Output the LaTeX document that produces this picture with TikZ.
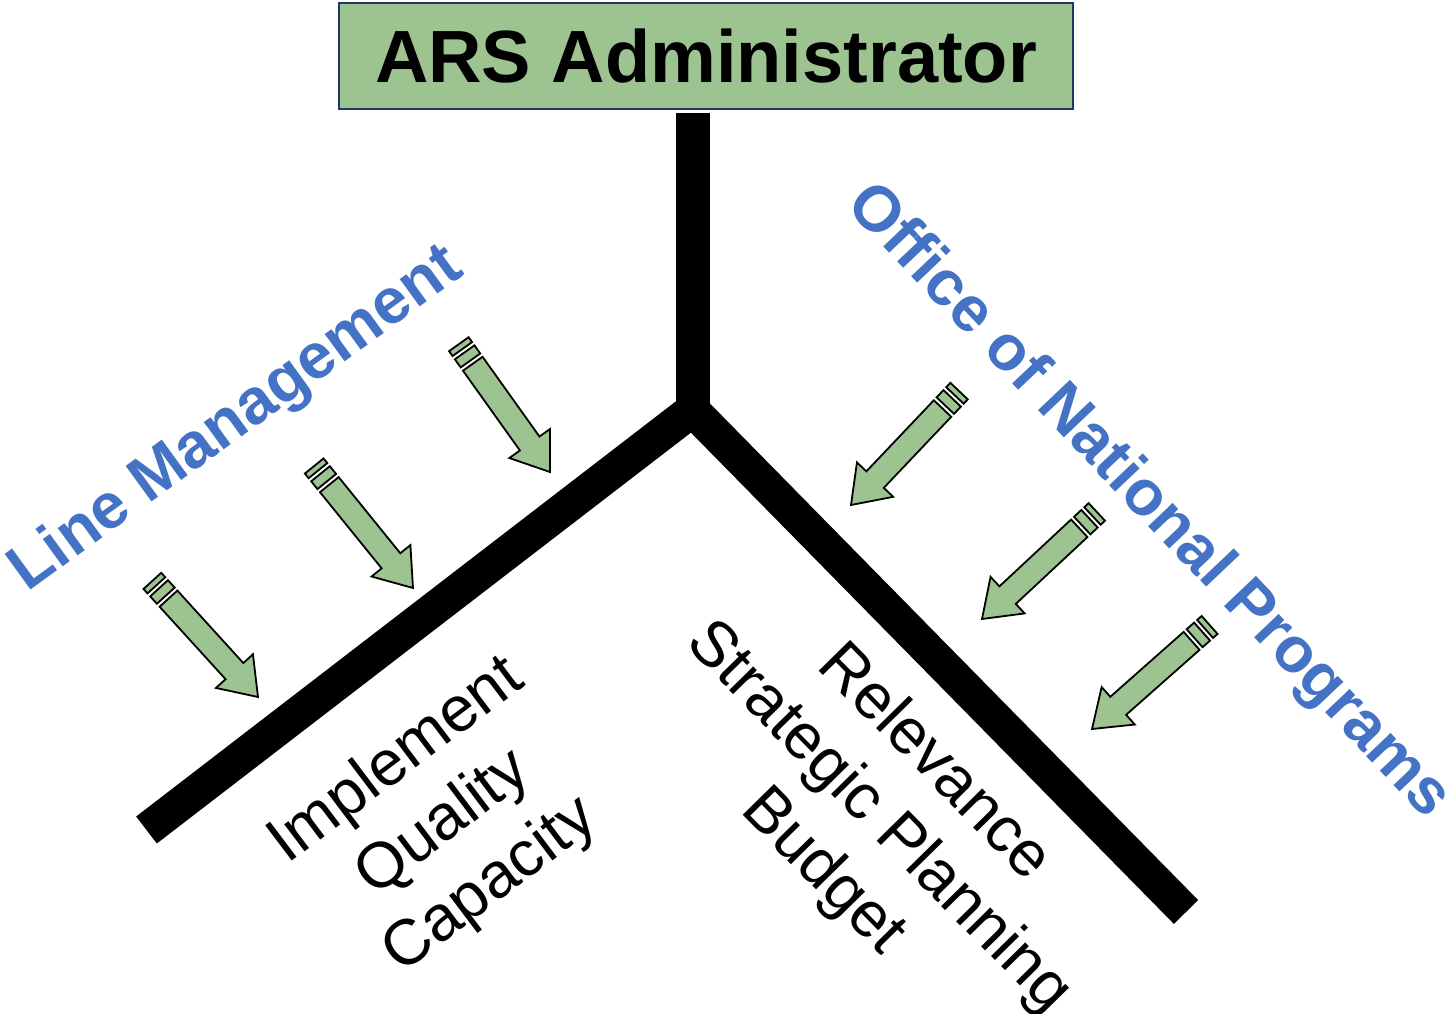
\documentclass[tikz,border=0pt]{standalone}
\usepackage{fontspec}
\setmainfont{Liberation Sans}
\usetikzlibrary{calc}

\definecolor{arsgreen}{RGB}{157,195,145}
\definecolor{arsborder}{RGB}{31,56,100}
\definecolor{onpblue}{RGB}{68,114,196}

\tikzset{
  stripedarrow/.pic={
    \draw[arrowbody] (0,0) -- (-35,25) -- (-35,12) -- (-133,12) -- (-133,-12)
      -- (-35,-12) -- (-35,-25) -- cycle;
    \draw[arrowbody] (-147,-12) rectangle (-137,12);
    \draw[arrowbody] (-157,-12) rectangle (-151,12);
  }
}

\begin{document}
\begin{tikzpicture}[x=1pt,y=-1pt,every text node part/.style={align=center}]
  \tikzstyle{arrowbody}=[draw=black,fill=arsgreen,line width=1.8pt,line join=miter]
  \tikzstyle{branch}=[line width=34pt,line join=miter]
  \tikzstyle{side}=[text=onpblue,font=\bfseries\fontsize{64}{76}\selectfont]
  \tikzstyle{duty}=[font=\fontsize{64}{78}\selectfont]

  \useasboundingbox (0,0) rectangle (1449,1014);

  \node [draw=arsborder,line width=2.2pt,fill=arsgreen,inner sep=0pt,
    minimum width=734pt,minimum height=106pt,
    font=\bfseries\fontsize{74}{80}\selectfont] (admin) at (706,56) {ARS Administrator};

  \coordinate (stemtop) at (692.5,113);
  \coordinate (hub) at (692.5,410);
  \coordinate (lmend) at (146.5,830);
  \coordinate (onpend) at (1186,912);

  \draw [branch] (stemtop) -- (hub);
  \draw [branch] (lmend) -- (hub) -- (onpend);

  \node [side,rotate=36] (linemgmt) at (237,420) {Line Management};
  \node [side,rotate=-46.5] (onp) at (1148,502) {Office of National Programs};

  \node [duty,rotate=37] (lmduties) at (444,824) {Implement\\Quality\\Capacity};
  \node [duty,rotate=-45.5] (onpduties) at (878,818) {Relevance\\Strategic Planning\\Budget};

  \pic [rotate=-54.5] (lmarrowa) at (550,472) {stripedarrow};
  \pic [rotate=-51] (lmarrowb) at (413,588) {stripedarrow};
  \pic [rotate=-47.7] (lmarrowc) at (258,697) {stripedarrow};
  \pic [rotate=-133.5] (onparrowa) at (851,505) {stripedarrow};
  \pic [rotate=-137] (onparrowb) at (982,619) {stripedarrow};
  \pic [rotate=-138.5] (onparrowc) at (1092,729) {stripedarrow};
\end{tikzpicture}
\end{document}
